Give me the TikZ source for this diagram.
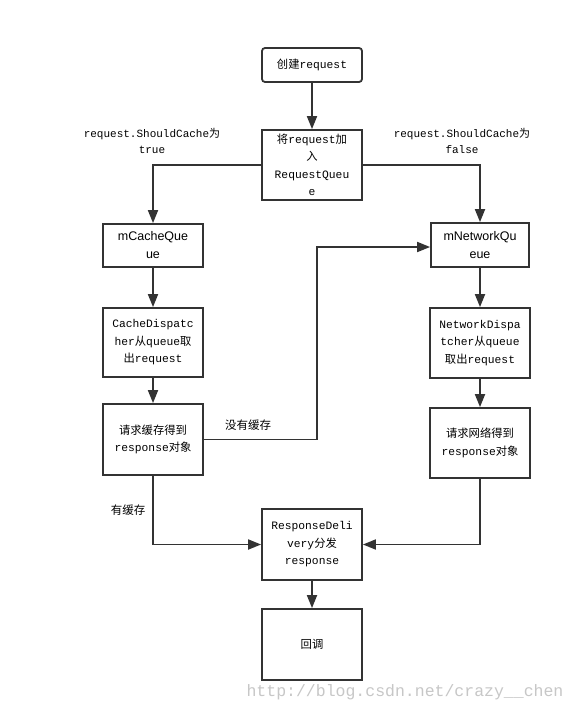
\documentclass[tikz,border=0pt]{standalone}
\usepackage{fontspec}
\setmainfont{Liberation Mono}
\newfontfamily\cjk{Noto Sans CJK SC}
\newfontfamily\arialfont{Liberation Sans}
\usetikzlibrary{arrows.meta}
\newcommand\zh[1]{{\cjk #1}}
\begin{document}
\begin{tikzpicture}[x=1pt,y=-1pt,
  box/.style={draw=black!80, line width=1.8pt, fill=white, inner sep=0pt, align=center,
    font=\fontsize{11.3}{17.5}\selectfont},
  conn/.style={draw=black!80, line width=1.8pt, -{Triangle[length=13pt,width=10pt]}},
  lbl/.style={font=\fontsize{11}{16}\selectfont, align=center, inner sep=0pt}]
\useasboundingbox[fill=white] (0,0) rectangle (576,712);

\node[box, rounded corners=3pt, minimum width=100pt, minimum height=34pt] (b1) at (312,65) {\zh{创建}request};
\node[box, minimum width=100pt, minimum height=70pt] (b2) at (312,165) {\zh{将}request\zh{加}\\\zh{入}\\RequestQueu\\e};
\node[box, minimum width=100pt, minimum height=43pt, font=\arialfont\fontsize{12.5}{18}\selectfont] (mc) at (153,245.5) {mCacheQue\\ue};
\node[box, minimum width=100pt, minimum height=69pt] (cd) at (153,342.5) {CacheDispatc\\her\zh{从}queue\zh{取}\\\zh{出}request};
\node[box, minimum width=100pt, minimum height=71pt] (rc) at (153,439.5) {\zh{请求缓存得到}\\response\zh{对象}};
\node[box, minimum width=98pt, minimum height=44pt, font=\arialfont\fontsize{12.5}{18}\selectfont] (mn) at (480,245) {mNetworkQu\\eue};
\node[box, minimum width=100pt, minimum height=70pt] (nd) at (480,343) {NetworkDispa\\tcher\zh{从}queue\\\zh{取出}request};
\node[box, minimum width=100pt, minimum height=70pt] (rn) at (480,443) {\zh{请求网络得到}\\response\zh{对象}};
\node[box, minimum width=100pt, minimum height=71pt] (rd) at (312,544.5) {ResponseDeli\\very\zh{分发}\\response};
\node[box, minimum width=100pt, minimum height=71pt] (cb) at (312,644.5) {\zh{回调}};

\node[lbl] (lt) at (152,141) {request.ShouldCache\zh{为}\\true};
\node[lbl] (lf) at (462,141) {request.ShouldCache\zh{为}\\false};
\node[lbl, font=\cjk\fontsize{11.5}{14}\selectfont] (nc) at (248,425) {没有缓存};
\node[lbl, font=\cjk\fontsize{11.5}{14}\selectfont] (yc) at (128,510) {有缓存};

\node[font=\fontsize{16.5}{18}\selectfont, text=black!22, inner sep=0pt] (wm) at (405,692) {http://blog.csdn.net/crazy\_\_chen};

\draw[conn] (b1.south) -- (b2.north);
\draw[conn] (b2.west) -| (mc.north);
\draw[conn] (b2.east) -| (mn.north);
\draw[conn] (mc.south) -- (cd.north);
\draw[conn] (cd.south) -- (rc.north);
\draw[conn] (mn.south) -- (nd.north);
\draw[conn] (nd.south) -- (rn.north);
\coordinate (turn) at (317,439.5);
\draw[conn] (rc.east) -- (turn) |- ([yshift=-2pt]mn.west);
\draw[conn] (rc.south) |- (rd.west);
\draw[conn] (rn.south) |- (rd.east);
\draw[conn] (rd.south) -- (cb.north);
\end{tikzpicture}
\end{document}
